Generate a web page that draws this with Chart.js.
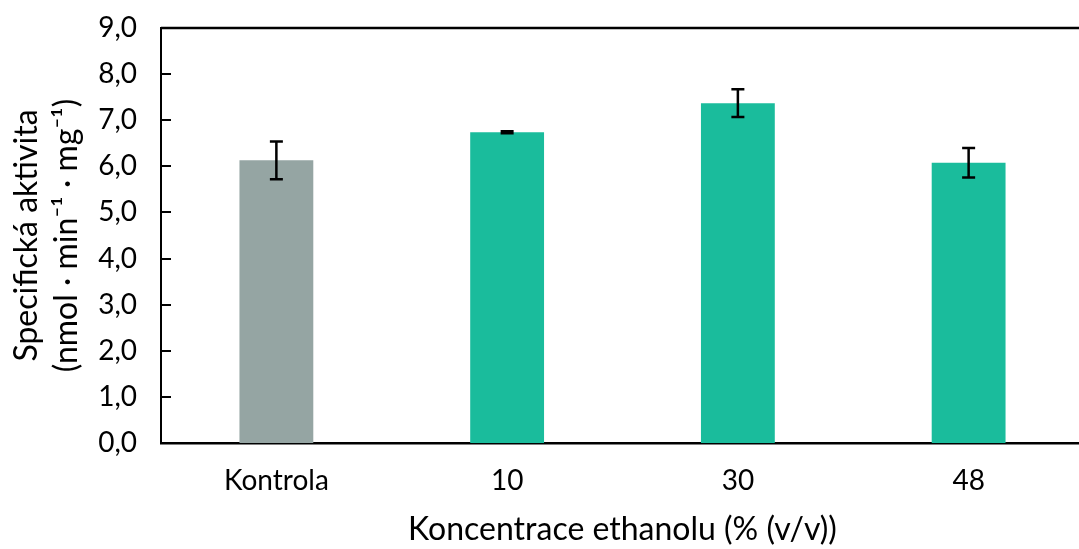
<!DOCTYPE html>
<html>
<head>
<meta charset="utf-8">
<script src="https://cdn.jsdelivr.net/npm/chart.js@4/dist/chart.umd.min.js"></script>
<style>
  html, body { margin: 0; padding: 0; background: #ffffff; overflow: hidden; }
  /* plot runs slightly past the right edge of the window */
  #wrap { width: 1084px; height: 549px; position: relative; }
</style>
</head>
<body>
<div id="wrap"><canvas id="c"></canvas></div>
<script>
// Specific activity at different ethanol concentrations
const categories = ['Kontrola', '10', '30', '48'];
const activity = [6.13, 6.74, 7.37, 6.08];
const activityErr = [0.41, 0.02, 0.30, 0.32];
const barColors = ['#95A5A3', '#1ABC9C', '#1ABC9C', '#1ABC9C'];
const yTicks = [0, 1, 2, 3, 4, 5, 6, 7, 8, 9];

const FONT = 'Lato, "Open Sans", sans-serif';

// Error bars, inward y tick marks and top frame line
const decorations = {
  id: 'decorations',
  afterDatasetsDraw(chart) {
    const ctx = chart.ctx;
    const y = chart.scales.y;
    const area = chart.chartArea;
    const meta = chart.getDatasetMeta(0);
    ctx.save();
    ctx.strokeStyle = '#000000';
    ctx.lineWidth = 2.5;
    meta.data.forEach((bar, i) => {
      const top = y.getPixelForValue(activity[i] + activityErr[i]);
      const bot = y.getPixelForValue(activity[i] - activityErr[i]);
      const cap = 6.5;
      ctx.beginPath();
      ctx.moveTo(bar.x, top); ctx.lineTo(bar.x, bot);
      ctx.moveTo(bar.x - cap, top); ctx.lineTo(bar.x + cap, top);
      ctx.moveTo(bar.x - cap, bot); ctx.lineTo(bar.x + cap, bot);
      ctx.stroke();
    });
    // tick marks pointing into the plot
    ctx.lineWidth = 2;
    yTicks.forEach(v => {
      if (v === 0 || v === 9) return;
      const py = Math.round(y.getPixelForValue(v));
      ctx.beginPath();
      ctx.moveTo(area.left, py); ctx.lineTo(area.left + 10, py);
      ctx.stroke();
    });
    // top frame line
    ctx.lineWidth = 2.5;
    ctx.beginPath();
    ctx.moveTo(area.left, area.top); ctx.lineTo(chart.width, area.top);
    ctx.stroke();
    ctx.restore();
  }
};

new Chart(document.getElementById('c'), {
  type: 'bar',
  data: {
    labels: categories,
    datasets: [{
      data: activity,
      backgroundColor: barColors,
      borderWidth: 0,
      categoryPercentage: 1.0,
      barPercentage: 0.32
    }]
  },
  options: {
    responsive: true,
    maintainAspectRatio: false,
    animation: false,
    layout: { padding: { top: 28, right: 0, left: 0, bottom: 0 } },
    plugins: {
      legend: { display: false },
      tooltip: { enabled: false }
    },
    scales: {
      x: {
        grid: { display: false, drawTicks: false },
        border: { display: true, color: '#000000', width: 2.5 },
        ticks: {
          color: '#000000',
          font: { family: FONT, size: 28 },
          padding: 21
        },
        title: {
          display: true,
          text: 'Koncentrace ethanolu (% (v/v))',
          color: '#000000',
          font: { family: FONT, size: 32 },
          padding: { top: 4, bottom: 0 }
        },
        afterFit(scale) { scale.height = 106; }
      },
      y: {
        min: 0,
        max: 9,
        afterBuildTicks(scale) { scale.ticks = yTicks.map(v => ({ value: v })); },
        grid: { display: false, drawTicks: false },
        border: { display: true, color: '#000000', width: 2 },
        ticks: {
          color: '#000000',
          font: { family: FONT, size: 28 },
          padding: 24,
          callback: v => v.toFixed(1).replace('.', ',')
        },
        title: {
          display: true,
          text: ['Specifická aktivita', '(nmol · min⁻¹ · mg⁻¹)'],
          color: '#000000',
          font: { family: FONT, size: 32, lineHeight: 1.25 },
          padding: { top: 7, bottom: 0 }
        },
        afterFit(scale) {
          scale.width = 161;
          scale.paddingTop = 0;
          scale.paddingBottom = 0;
        }
      }
    }
  },
  plugins: [decorations]
});
</script>
</body>
</html>
